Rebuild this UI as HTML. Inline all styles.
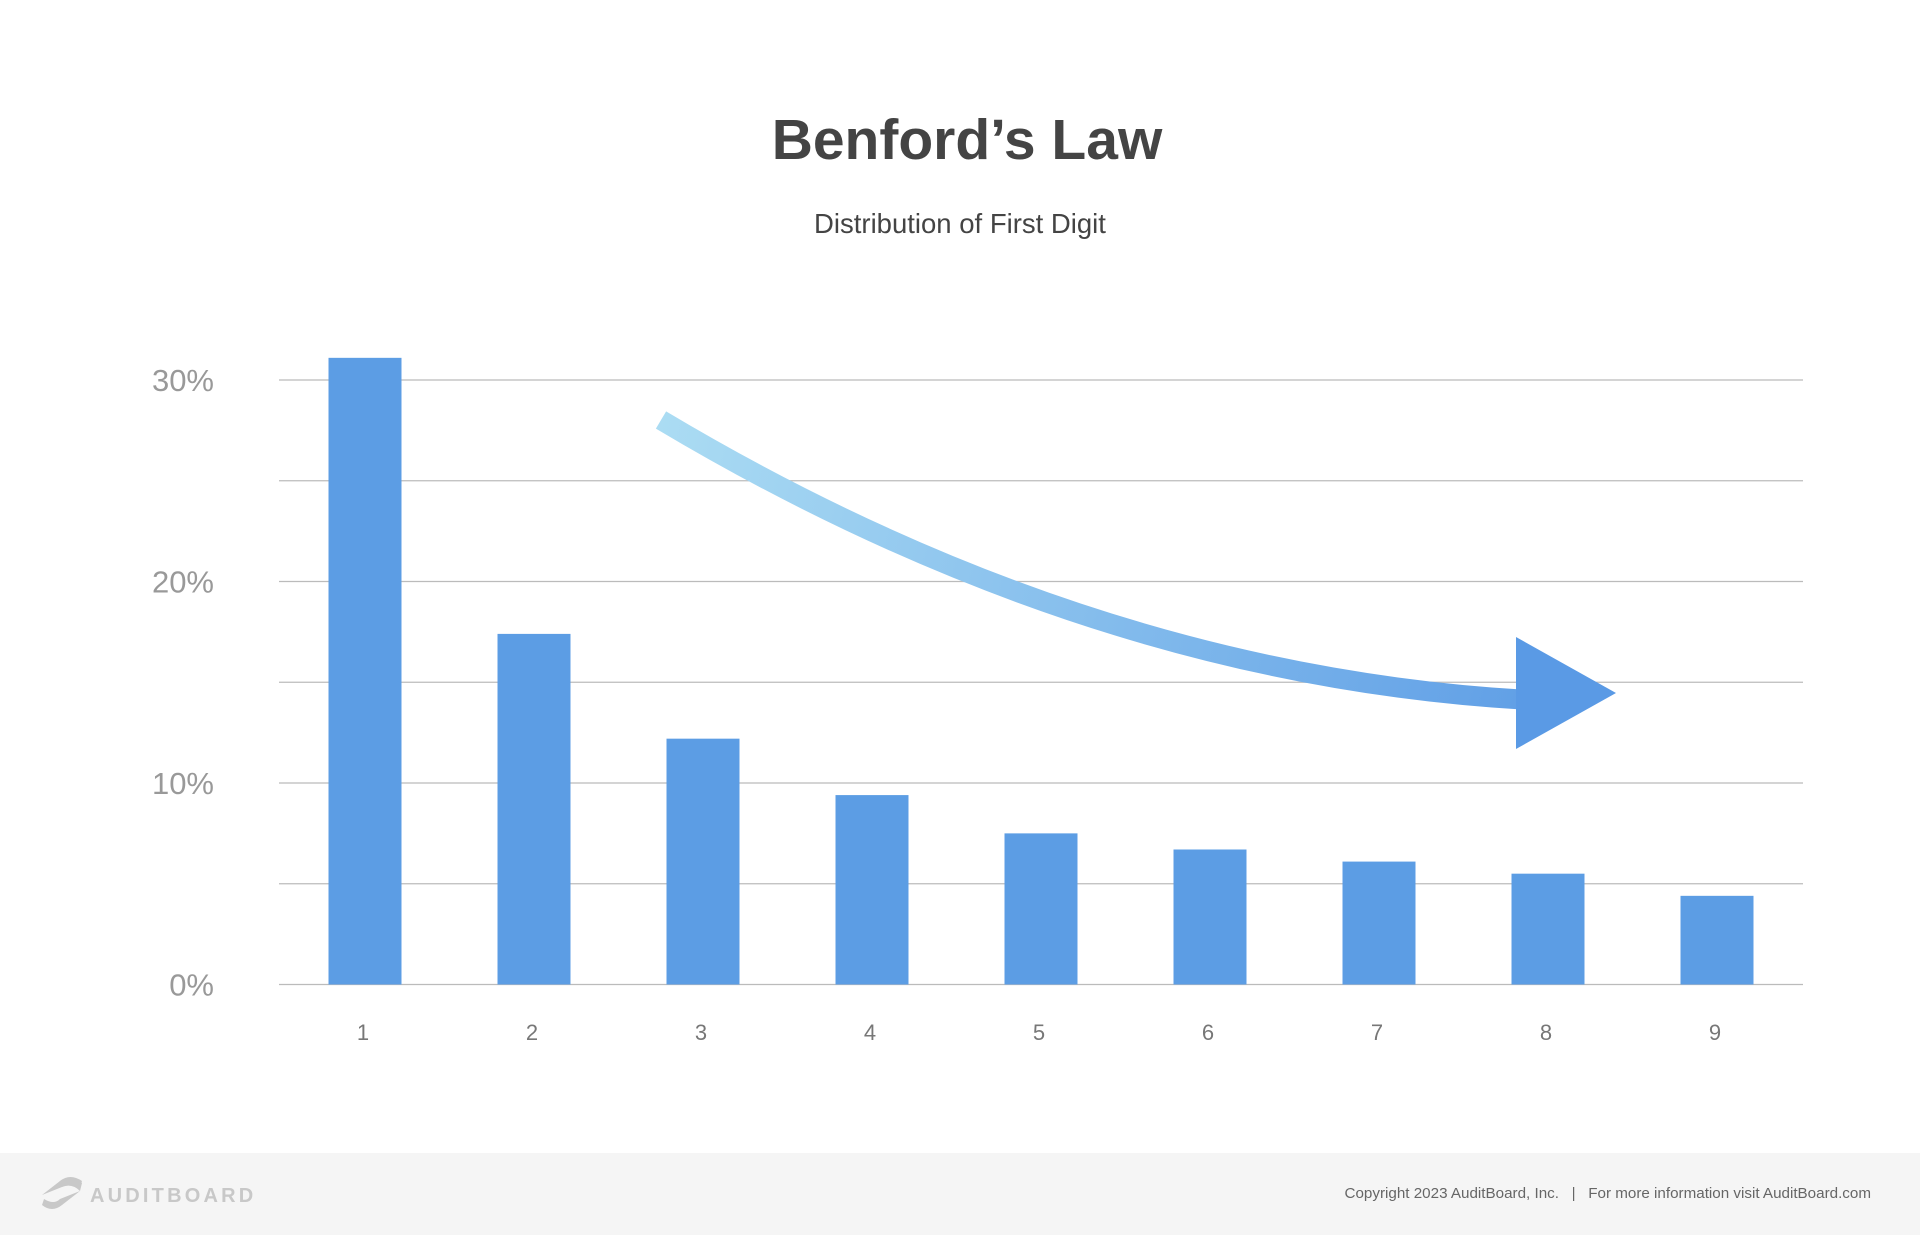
<!DOCTYPE html>
<html><head><meta charset="utf-8"><style>
body{margin:0;width:1920px;height:1235px;background:#fff;font-family:"Liberation Sans",sans-serif;overflow:hidden;position:relative}
.footer{position:absolute;left:0;top:1153px;width:1920px;height:82px;background:#f5f5f5}
</style></head><body>
<svg id="chart" width="1920" height="1153" style="position:absolute;left:0;top:0">
<defs><linearGradient id="ag" gradientUnits="userSpaceOnUse" x1="661" y1="420" x2="1616" y2="700">
<stop offset="0" stop-color="#abdcf3"/><stop offset="1" stop-color="#5a9ae5"/></linearGradient></defs>
<text x="967" y="159" text-anchor="middle" font-size="57" font-weight="bold" fill="#444">Benford’s Law</text>
<text x="960" y="233" text-anchor="middle" font-size="27.5" fill="#444">Distribution of First Digit</text>
<g id="grid"></g><g id="bars"></g><g id="xl"></g>
<path d="M661,420 Q1090,676 1530,700" fill="none" stroke="url(#ag)" stroke-width="20"/>
<polygon points="1516,637 1616,693 1516,749" fill="#5a9ae5"/>
</svg>
<div class="footer">
<svg width="260" height="82" style="position:absolute;left:40px;top:0">
<path d="M2,42 L20,28 Q30,20 42,28 L40,34 Q30,28 22,34 Z M40,38 L22,52 Q12,60 2,52 L4,46 Q14,52 20,46 Z" fill="#c8c8c8"/>
<path d="M40,38 Q32,30 22,34 L20,28 Q32,20 42,30 Z" fill="#c8c8c8"/>
<text x="50" y="49" font-size="20" font-weight="bold" letter-spacing="3.2" fill="#c8c8c8">AUDITBOARD</text>
</svg>
<div style="position:absolute;right:49px;top:32px;font-size:15.2px;color:#666">Copyright 2023 AuditBoard, Inc. &nbsp;&nbsp;| &nbsp;&nbsp;For more information visit AuditBoard.com</div>
</div>
<script>
const categories=["1","2","3","4","5","6","7","8","9"];
const values=[31.1,17.4,12.2,9.4,7.5,6.7,6.1,5.5,4.4];
const yTicks=[0,10,20,30];
const gridLines=[0,5,10,15,20,25,30];
const NS="http://www.w3.org/2000/svg";
const y0=984.5,pxPer=20.15,left=279,right=1803,x0=365,step=169,bw=73;
const ys=v=>y0-v*pxPer, xs=i=>x0+i*step;
function mk(t,a,p){const e=document.createElementNS(NS,t);for(const k in a)e.setAttribute(k,a[k]);p.appendChild(e);return e;}
const grid=document.getElementById('grid');
gridLines.forEach(g=>{const l=mk('line',{x1:left,x2:right,y1:ys(g),y2:ys(g),stroke:'#bbb','stroke-width':1.3},grid);

});
yTicks.forEach(t=>{const e=mk('text',{x:214,y:ys(t)+11,'text-anchor':'end','font-size':31,fill:'#999'},grid);e.textContent=t+'%';

});
const bars=document.getElementById('bars'),xl=document.getElementById('xl');
values.forEach((v,i)=>{const r=mk('rect',{x:xs(i)-bw/2,y:ys(v),width:bw,height:y0-ys(v),fill:'#5c9de4'},bars);


const t=mk('text',{x:xs(i)-2,y:1040,'text-anchor':'middle','font-size':22,fill:'#777'},xl);t.textContent=categories[i];

});
</script>
</body></html>
